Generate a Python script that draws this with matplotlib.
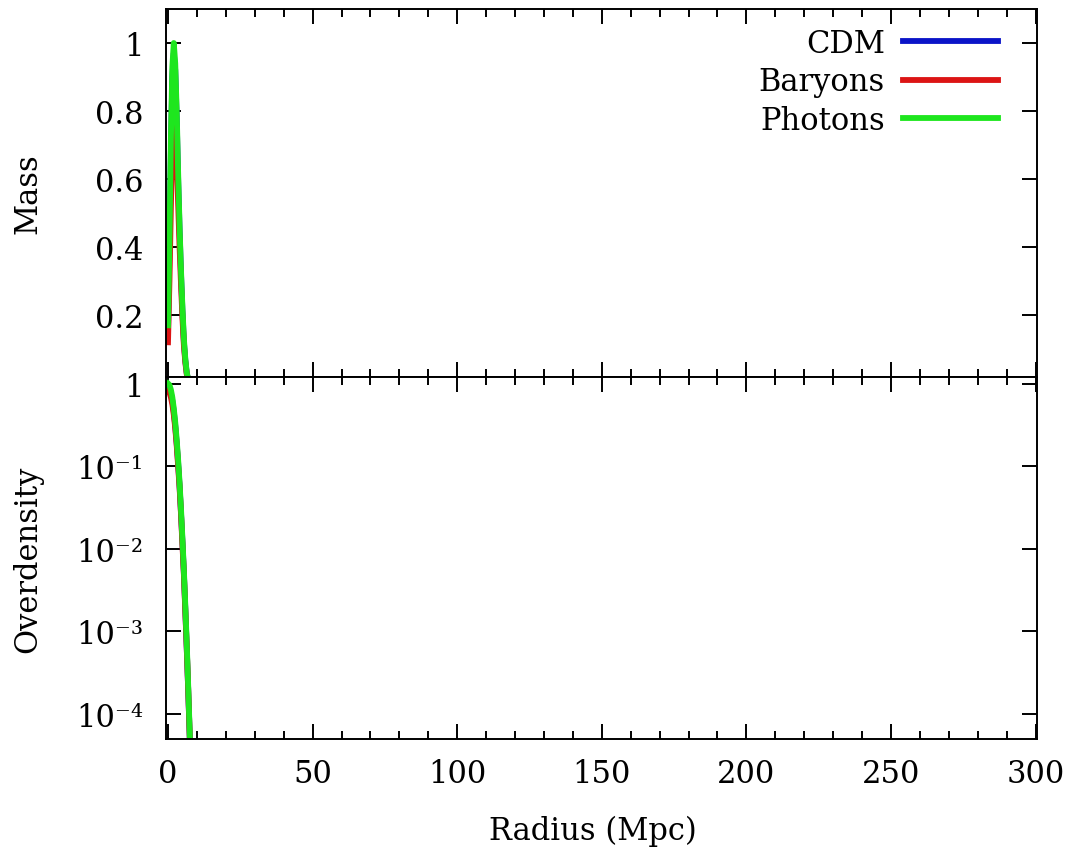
import numpy as np
import matplotlib
matplotlib.use("Agg")
import matplotlib.pyplot as plt
from matplotlib.ticker import MultipleLocator, FixedLocator, FuncFormatter

plt.rcParams['font.family'] = ['DejaVu Serif', 'DejaVu Sans']

# radius grid (Mpc)
radius = [0.0, 0.5, 1.0, 1.5, 2.0, 2.5, 3.0, 3.5, 4.0, 4.5, 5.0, 5.5, 6.0, 6.5, 7.0, 7.5, 8.0]

# enclosed mass profiles (normalised)
mass_cdm = [0.15, 0.39, 0.68, 0.9, 0.97, 0.92, 0.78, 0.6, 0.45, 0.32, 0.21, 0.12, 0.065, 0.028, 0.01, 0.004, 0.001]
mass_baryons = [0.12, 0.3, 0.52, 0.7, 0.8, 0.78, 0.67, 0.53, 0.4, 0.29, 0.19, 0.11, 0.06, 0.025, 0.01, 0.004, 0.001]
mass_photons = [0.17, 0.42, 0.72, 0.93, 1.0, 0.94, 0.8, 0.62, 0.46, 0.33, 0.22, 0.13, 0.07, 0.03, 0.01, 0.004, 0.001]

# overdensity profiles
delta_cdm = [0.9, 0.87, 0.76, 0.62, 0.46, 0.31, 0.19, 0.11, 0.058, 0.027, 0.012, 0.005, 0.0018, 0.0006, 0.00019, 0.000055, 0.000015]
delta_baryons = [0.8, 0.78, 0.68, 0.56, 0.42, 0.29, 0.18, 0.1, 0.055, 0.026, 0.011, 0.0048, 0.0017, 0.0006, 0.00019, 0.000055, 0.000015]
delta_photons = [1.0, 0.96, 0.84, 0.68, 0.5, 0.34, 0.21, 0.12, 0.063, 0.03, 0.013, 0.0054, 0.002, 0.00068, 0.00021, 0.00006, 0.000016]

labels = ["CDM", "Baryons", "Photons"]
colors = ["#0a14c8", "#dc1414", "#1ee61e"]

FS = 22
SUP = {'-': '\u207b', '0': '\u2070', '1': '\u00b9', '2': '\u00b2', '3': '\u00b3', '4': '\u2074'}


def log_label(v, pos):
    if abs(v - 1) < 1e-9:
        return "1"
    e = str(int(round(np.log10(v))))
    return "10" + "".join(SUP[ch] for ch in e)


fig = plt.figure(figsize=(10.75, 8.54), dpi=100)
ax1 = fig.add_axes([0.1544, 0.5574, 0.8103, 0.4309])
ax2 = fig.add_axes([0.1544, 0.1335, 0.8103, 0.4239], sharex=ax1)

for m, lab, c in zip([mass_cdm, mass_baryons, mass_photons], labels, colors):
    ax1.plot(radius, m, color=c, lw=4.2, label=lab)
for d, c in zip([delta_cdm, delta_baryons, delta_photons], colors):
    ax2.plot(radius, d, color=c, lw=4.2)

ax1.set_ylim(0.018, 1.1)
ax1.yaxis.set_major_locator(FixedLocator([0.2, 0.4, 0.6, 0.8, 1.0]))
ax1.yaxis.set_major_formatter(FuncFormatter(lambda v, p: "1" if abs(v - 1) < 1e-9 else f"{v:.1f}"))

ax2.set_yscale('log')
ax2.set_ylim(5e-5, 1.2)
ax2.yaxis.set_major_locator(FixedLocator([1e-4, 1e-3, 1e-2, 1e-1, 1]))
ax2.yaxis.set_minor_locator(FixedLocator([]))
ax2.yaxis.set_major_formatter(FuncFormatter(log_label))

ax2.set_xlim(-0.7, 300.5)
ax2.xaxis.set_major_locator(MultipleLocator(50))
ax2.xaxis.set_minor_locator(MultipleLocator(10))

for ax in (ax1, ax2):
    for s in ax.spines.values():
        s.set_linewidth(1.4)
    ax.tick_params(which='both', direction='in', top=True, right=True,
                   width=1.4, labelsize=FS, pad=14)
    ax.tick_params(axis='y', pad=16)
    ax.tick_params(which='major', length=11)
    ax.tick_params(which='minor', length=6)

ax1.tick_params(labelbottom=False)

ax1.set_ylabel("Mass", fontsize=FS)
ax2.set_ylabel("Overdensity", fontsize=FS)
ax1.yaxis.set_label_coords(-0.141, 0.5)
ax2.yaxis.set_label_coords(-0.141, 0.5)
ax2.set_xlabel("Radius (Mpc)", fontsize=FS)
ax2.xaxis.set_label_coords(0.49, -0.21)

ax1.legend(loc='upper right', bbox_to_anchor=(0.955, 0.948), frameon=False,
           fontsize=FS, markerfirst=False, handlelength=3.1, handletextpad=0.6,
           labelspacing=0.24, borderpad=0, borderaxespad=0)

fig.savefig("out.png", dpi=100)
